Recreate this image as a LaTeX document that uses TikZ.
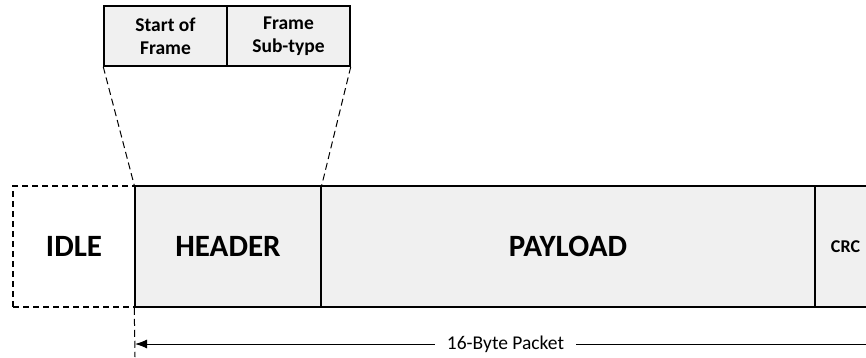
\documentclass[tikz,border=0pt]{standalone}
\usepackage{fontspec}
\setmainfont{Carlito}
\usetikzlibrary{arrows.meta}
\definecolor{cellfill}{HTML}{F0F0F0}
\tikzset{
  cell/.style={draw=black, fill=cellfill, line width=1.5pt, inner sep=0pt, anchor=center, align=center, font=\bfseries},
  idlebox/.style={draw=black, dash pattern=on 6pt off 4pt, line width=1.1pt, inner sep=0pt, font=\bfseries},
  guide/.style={draw=black, dash pattern=on 7pt off 4pt, line width=1pt},
  span/.style={draw=black, line width=1pt, {Latex[length=12pt,width=9pt]}-{Latex[length=12pt,width=9pt]}}
}
\begin{document}
\begin{tikzpicture}[x=1pt,y=-1pt]
\useasboundingbox (0,0) rectangle (866,357);
\clip (0,0) rectangle (866,357);
% top detail
\node[cell, minimum width=123pt, minimum height=60pt, font=\bfseries\fontsize{19.5}{23}\selectfont] (sof) at (165.5,36) {Start of\\Frame};
\node[cell, minimum width=123pt, minimum height=60pt, font=\bfseries\fontsize{19.5}{23}\selectfont] (sub) at (288.5,36) {Frame\\Sub-type};
% main row
\node[idlebox, minimum width=122pt, minimum height=121pt, font=\bfseries\fontsize{31}{33}\selectfont] (idle) at (74,246.5) {IDLE};
\node[cell, minimum width=186pt, minimum height=121pt, font=\bfseries\fontsize{31}{33}\selectfont] (header) at (228,246.5) {HEADER};
\node[cell, minimum width=494pt, minimum height=121pt, font=\bfseries\fontsize{31}{33}\selectfont] (payload) at (568,246.5) {PAYLOAD};
\node[cell, minimum width=61pt, minimum height=121pt, font=\bfseries\fontsize{18}{20}\selectfont] (crc) at (845.5,246.5) {CRC};
% zoom guides
\draw[guide] (sof.south west) -- (header.north west);
\draw[guide] (sub.south east) -- (header.north east);
% vertical dashed
\coordinate (vbot) at (135,357);
\draw[guide] (header.south west) -- (vbot);
% span arrow
\coordinate (aL) at (135,344);
\coordinate (aR) at (878,344);
\draw[span] (aL) -- (aR);
\node[fill=white, inner xsep=12pt, inner ysep=2pt, font=\fontsize{19.5}{21}\selectfont] (lbl) at (505.5,344) {16-Byte Packet};
\end{tikzpicture}
\end{document}
